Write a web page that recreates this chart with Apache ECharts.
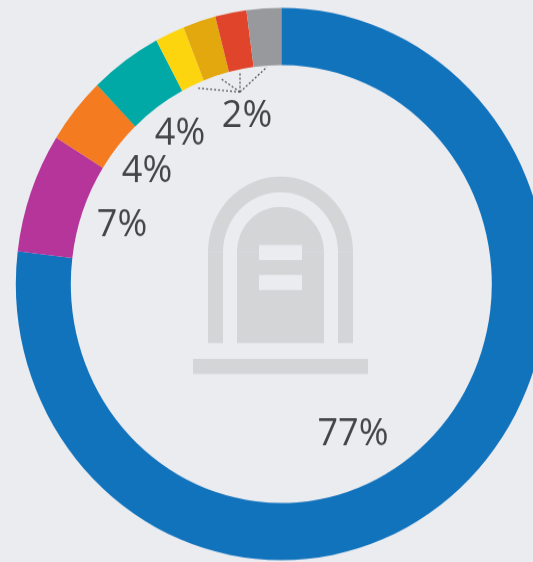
<!DOCTYPE html>
<html>
<head>
<meta charset="utf-8">
<style>
html, body { margin: 0; padding: 0; background: #ebecf0; overflow: hidden; }
/* the source picture is a bit taller than wide, so the ring is an ellipse */
#main { width: 533px; height: 562px; transform: scaleY(1.04); transform-origin: 0 284px; }
</style>
<script src="https://cdn.jsdelivr.net/npm/echarts@6/dist/echarts.min.js"></script>
</head>
<body>
<div id="main"></div>
<script>
var names = ['a', 'b', 'c', 'd', 'e', 'f', 'g', 'h'];
var values = [76.9, 7, 3.9, 4.4, 1.8, 2, 1.9, 2.1];
var labels = ['77%', '7%', '4%', '4%', '', '', '2%', ''];
var colors = ['#1273bd', '#b5359b', '#f47b20', '#00a9a5', '#fcd50f', '#e3a80e', '#e0452b', '#98999c'];
var labelSpots = [[353, 435], [122, 226], [147, 171], [180, 134], null, null, [247, 116], null];

var iconColor = '#d3d5d7';
var bgColor = '#ebecf0';
var textColor = '#43454a';

var myChart = echarts.init(document.getElementById('main'));

// page y to canvas y, undoes the css stretch
function yy(y) {
    return 284 + (y - 284) / 1.04;
}

function leader(x, y) {
    return {
        type: 'line',
        shape: { x1: 240, y1: yy(92), x2: x, y2: yy(y) },
        style: { stroke: '#55585c', lineWidth: 1.3, lineDash: [2, 2] },
        silent: true
    };
}

function block(x, y, w, h, fill) {
    return {
        type: 'rect',
        silent: true,
        shape: { x: x, y: yy(y), width: w, height: h / 1.04 },
        style: { fill: fill }
    };
}

function dome(r, r0) {
    return {
        type: 'sector',
        silent: true,
        shape: { cx: 280.5, cy: yy(252), r: r, r0: r0, startAngle: Math.PI, endAngle: Math.PI * 2, clockwise: true },
        style: { fill: iconColor }
    };
}

myChart.setOption({
    backgroundColor: bgColor,
    animation: false,
    series: [{
        type: 'pie',
        center: [281.3, 284],
        radius: [210.5, 265.5],
        startAngle: 90,
        clockwise: true,
        silent: true,
        labelLine: { show: false },
        label: {
            show: true,
            position: 'inside',
            color: textColor,
            fontFamily: 'Open Sans',
            fontSize: 36,
            formatter: function (p) { return labels[p.dataIndex]; }
        },
        labelLayout: function (p) {
            var spot = labelSpots[p.dataIndex];
            if (!spot) return {};
            return { x: spot[0], y: yy(spot[1]), align: 'center', verticalAlign: 'middle' };
        },
        data: names.map(function (n, i) {
            return { name: n, value: values[i], itemStyle: { color: colors[i] } };
        })
    }],
    graphic: [
        // gravestone icon
        dome(72.5, 57.5),
        block(208, 252, 15, 91, iconColor),
        block(338, 252, 15, 91, iconColor),
        dome(43.5, 0),
        block(237, 252, 87, 91, iconColor),
        block(259, 245, 43, 15, bgColor),
        block(259, 275, 43, 15, bgColor),
        block(193, 359, 175, 15, iconColor),
        // dotted leaders from the 2% label
        leader(197, 88),
        leader(220, 78),
        leader(240, 72),
        leader(267, 67)
    ]
});
</script>
</body>
</html>
